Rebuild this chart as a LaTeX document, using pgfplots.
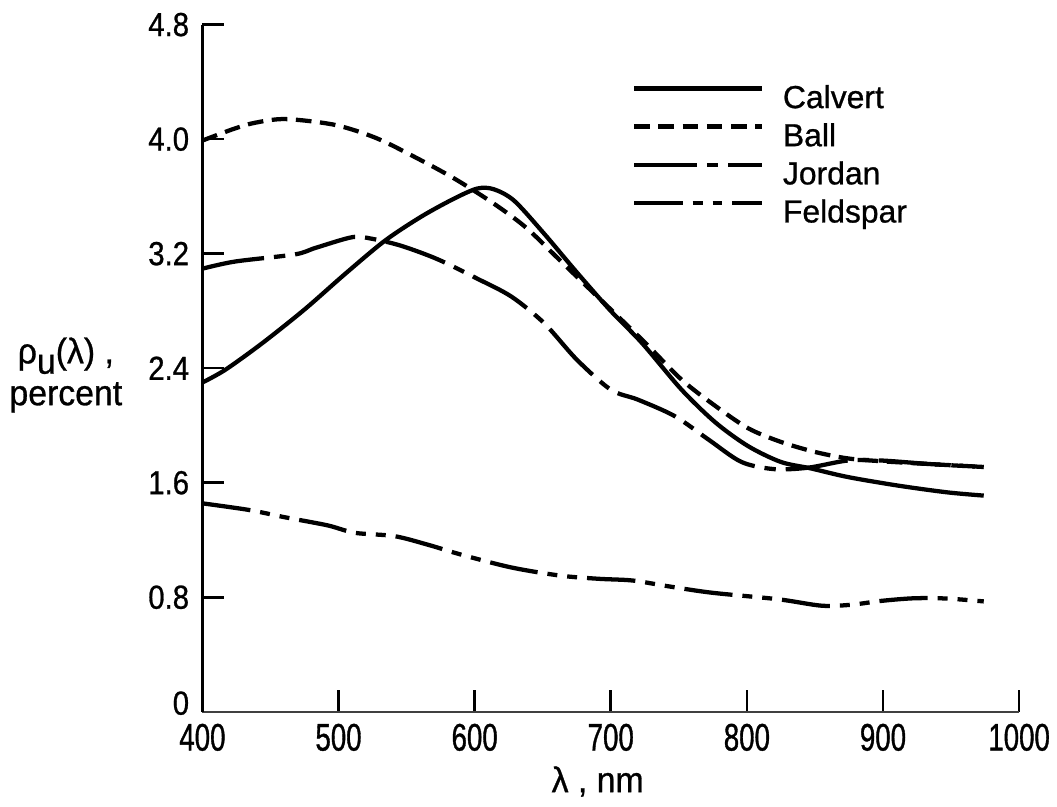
\documentclass[border=0pt]{standalone}
\usepackage{fontspec}
\setmainfont{Liberation Sans}[FakeBold=0.8]
\newfontfamily\ytickfont{Liberation Sans}[FakeStretch=0.88,FakeBold=0.8]
\newfontfamily\xtickfont{Liberation Sans}[FakeStretch=0.72,FakeBold=0.9]
\newfontfamily\labfont{Liberation Sans}[FakeStretch=0.95,FakeBold=0.8]
\usepackage{pgfplots}
\pgfplotsset{compat=1.18}
\begin{document}
\begin{tikzpicture}
\path (-70.7pt,-28pt) rectangle (299.25pt,249.9pt);
\begin{axis}[
  scale only axis,
  width=287pt, height=241.5pt,
  xmin=400, xmax=1000, ymin=0, ymax=4.8,
  axis x line*=bottom, axis y line*=left,
  x axis line style={line width=0.6pt, black!75},
  y axis line style={line width=1pt},
  tick align=inside,
  major tick length=7.5pt,
  tick style={line width=0.9pt, black},
  xtick={400,500,600,700,800,900,1000},
  xticklabels={400,500,600,700,800,900,1000},
  ytick={0,0.8,1.6,2.4,3.2,4.0,4.8},
  yticklabels={\raisebox{-1pt}[0pt][0pt]{0},0.8,1.6,2.4,3.2,4.0,4.8},
  /pgf/number format/assume math mode=true,
  xticklabel style={font=\xtickfont\fontsize{13.5}{15}\selectfont, inner sep=2.5pt, yshift=-1.5pt},
  yticklabel style={font=\ytickfont\fontsize{11.7}{14}\selectfont, inner sep=4.5pt},
  every axis x label/.style={at={(axis description cs:0.484,0)}, anchor=center, yshift=-24.5pt, font=\labfont\fontsize{12.5}{14.7}\selectfont},
  every axis y label/.style={at={(axis description cs:0,0.49)}, anchor=center, xshift=-48pt, align=center, font=\labfont\fontsize{12.5}{14.7}\selectfont},
  xlabel={λ , nm},
  ylabel={ρ\raisebox{-0.55ex}{u}(λ) ,\\percent},
  legend style={at={(axis description cs:0.515,0.929)}, anchor=north west, draw=none, fill=none,
    font=\fontsize{11.2}{13}\selectfont,
    nodes={text height=9pt, text depth=2.2pt, inner sep=1pt},
    row sep=0.2pt,
    /tikz/every odd column/.append style={column sep=5.5pt}},
  legend cell align=left,
  legend image code/.code={\draw[#1] (0pt,3.5pt) -- (45pt,3.5pt);},
]
\addplot[black, solid, line width=1.5pt, smooth, no markers] coordinates {
(400,2.30) (417,2.39) (444,2.575) (475,2.81) (505,3.06) (534,3.29) (561,3.46) (585,3.585) (602,3.655) (614,3.65) (629,3.57) (651,3.34) (675,3.07) (700,2.80) (723,2.575) (752,2.25) (777,2.02) (801,1.855) (825,1.745) (847,1.70) (874,1.64) (911,1.58) (947,1.533) (974,1.51)
};
\addlegendentry{Calvert}
\addplot[black, line width=1.5pt, smooth, no markers, dash pattern=on 5.5pt off 3pt] coordinates {
(400,3.99) (424,4.075) (439,4.115) (461,4.14) (497,4.10) (527,4.01) (556,3.875) (585,3.725) (614,3.55) (638,3.38) (663,3.15) (688,2.92) (725,2.58) (752,2.32) (777,2.135) (801,1.98) (825,1.885) (850,1.815) (874,1.77) (899,1.75) (935,1.73) (974,1.71)
};
\addlegendentry{Ball}
\addplot[black, line width=1.5pt, smooth, no markers, dash pattern=on 22pt off 3.5pt on 4pt off 3.5pt] coordinates {
(400,3.095) (424,3.145) (468,3.195) (483,3.24) (510,3.315) (524,3.305) (546,3.255) (573,3.16) (602,3.025) (627,2.90) (651,2.715) (675,2.46) (700,2.25) (720,2.18) (747,2.065) (772,1.90) (796,1.745) (820,1.695) (845,1.705) (874,1.755) (899,1.755) (935,1.73) (974,1.71)
};
\addlegendentry{Jordan}
\addplot[black, line width=1.5pt, smooth, no markers, dash pattern=on 17pt off 3.5pt on 3.5pt off 3.5pt on 3.5pt off 3.5pt] coordinates {
(400,1.456) (434,1.41) (461,1.358) (492,1.302) (512,1.25) (541,1.227) (566,1.166) (590,1.098) (627,1.008) (663,0.951) (691,0.929) (716,0.917) (742,0.877) (774,0.832) (823,0.786) (855,0.741) (877,0.748) (899,0.775) (923,0.793) (947,0.791) (974,0.771)
};
\addlegendentry{Feldspar}
\end{axis}
\end{tikzpicture}
\end{document}
